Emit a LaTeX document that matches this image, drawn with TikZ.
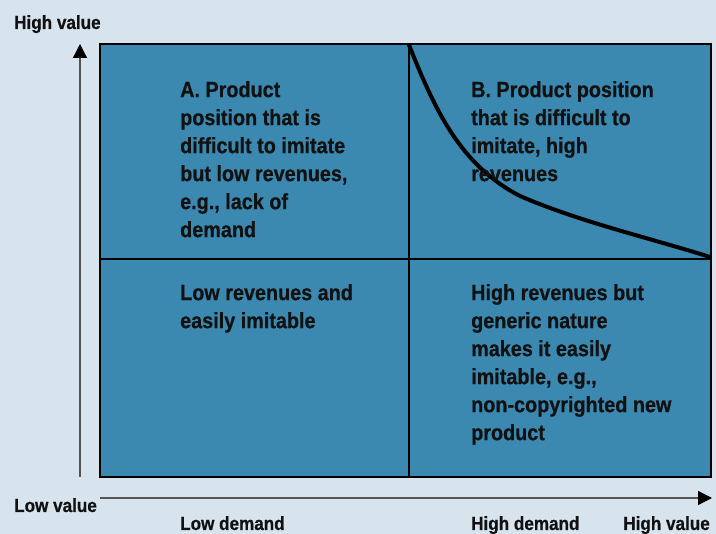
\documentclass[tikz,border=0pt]{standalone}
\usepackage{fontspec}
\setmainfont{Liberation Sans}[FakeStretch=0.9, BoldFeatures={FakeBold=0.6}]
\usetikzlibrary{arrows.meta}
\definecolor{bgc}{RGB}{215,228,238}
\definecolor{boxc}{RGB}{59,137,176}
\definecolor{txtc}{RGB}{17,17,17}
\definecolor{axisc}{RGB}{85,85,85}
\tikzset{
  quadtext/.style={anchor=north west, inner sep=0pt, align=left, text=txtc,
    font=\bfseries\fontsize{22}{28}\selectfont},
  axislabel/.style={anchor=base west, inner sep=0pt, text=txtc,
    font=\bfseries\fontsize{19}{23}\selectfont},
  axisline/.style={draw=axisc, line width=1.3pt, -{Triangle[length=14pt,width=14pt,color=black]}},
  gridline/.style={draw=black, line width=1.6pt}
}
\begin{document}
\begin{tikzpicture}[x=1pt,y=-1pt]
\fill[bgc] (0,0) rectangle (716,534);
\useasboundingbox (0,0) rectangle (716,534);
% matrix
\coordinate (tl) at (100,44);
\coordinate (br) at (711,477);
\coordinate (tm) at (409,44);
\coordinate (bm) at (409,477);
\coordinate (lm) at (100,259);
\coordinate (rm) at (711,259);
\fill[boxc] (tl) rectangle (br);
\draw[gridline] (tm) -- (bm);
\draw[gridline] (lm) -- (rm);
\draw[gridline] (tl) rectangle (br);
% curve
\draw[line width=4pt, black, line cap=round]
  (409,45) .. controls (435,110) and (460,165) .. (520,196)
  .. controls (580,222) and (650,238) .. (710,257);
% axes
\coordinate (ybot) at (80,477);
\coordinate (ytop) at (80,44);
\coordinate (xl) at (100,498);
\coordinate (xr) at (712,498);
\draw[axisline] (ybot) -- (ytop);
\draw[axisline] (xl) -- (xr);
% quadrant texts
\node[quadtext] (qa) at (180,81) {A. Product\\position that is\\difficult to imitate\\but low revenues,\\e.g., lack of\\demand};
\node[quadtext] (qb) at (471,81) {B. Product position\\that is difficult to\\imitate, high\\revenues};
\node[quadtext] (qc) at (180,284) {Low revenues and\\easily imitable};
\node[quadtext] (qd) at (471,284) {High revenues but\\generic nature\\makes it easily\\imitable, e.g.,\\non-copyrighted new\\product};
% axis labels
\node[axislabel] (hv) at (14,29) {High value};
\node[axislabel] (lv) at (14,512) {Low value};
\node[axislabel] (ld) at (180,530) {Low demand};
\node[axislabel] (hd) at (471,530) {High demand};
\node[axislabel, anchor=base east] (hv2) at (710,530) {High value};
\end{tikzpicture}
\end{document}
